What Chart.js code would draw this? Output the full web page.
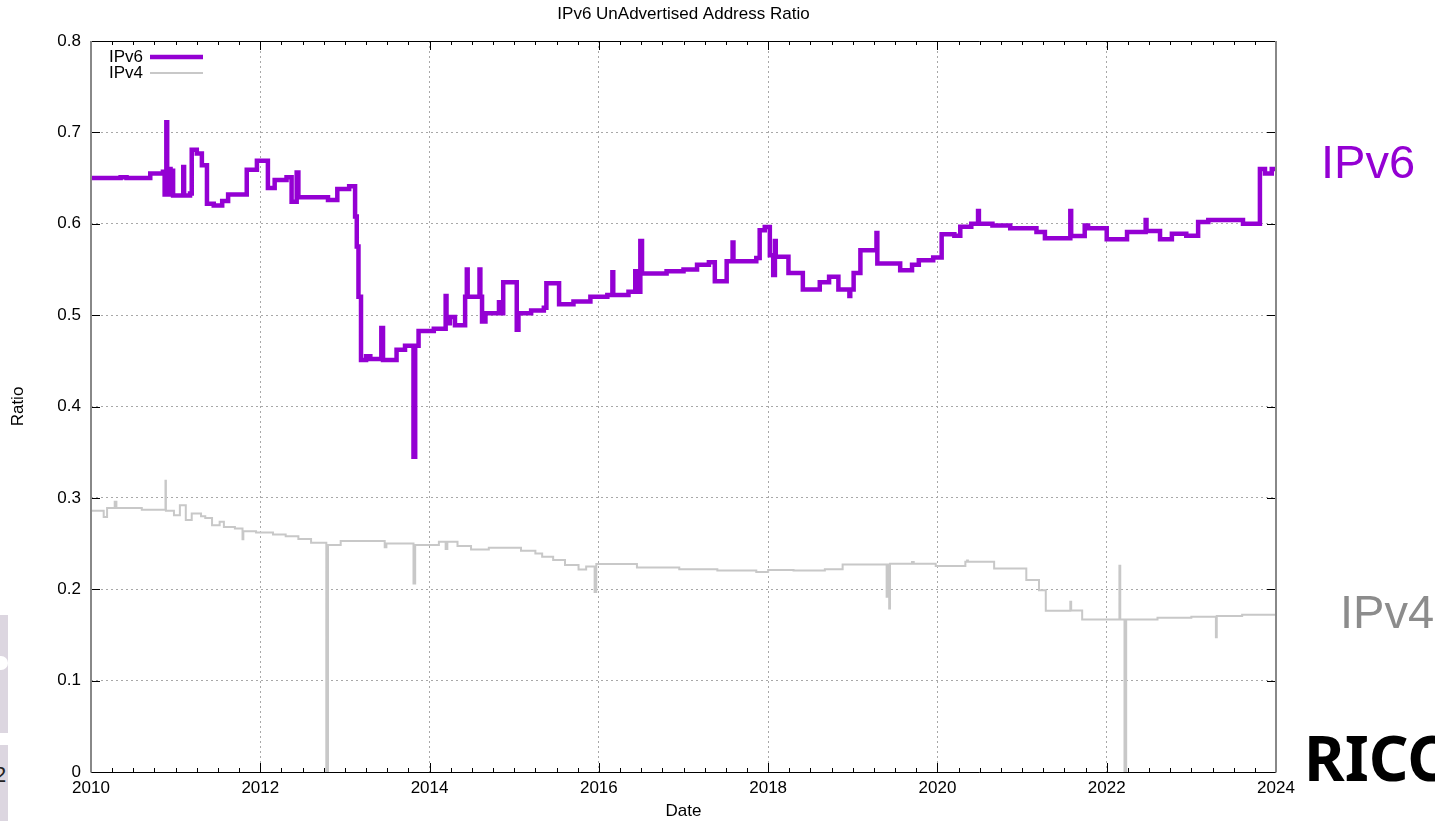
<!DOCTYPE html>
<html>
<head>
<meta charset="utf-8">
<script src="https://cdn.jsdelivr.net/npm/chart.js@4"></script>
<style>
  body { margin: 0; background: #fff; overflow: hidden; }
  #wrap { position: relative; width: 1435px; height: 821px; overflow: hidden; }
  canvas { position: absolute; left: 0; top: 0; }
  .side { position: absolute; font-family: "Liberation Sans", Arial, sans-serif; white-space: nowrap; }
</style>
</head>
<body>
<div id="wrap">
  <div class="side" style="left:0;top:615px;width:8px;height:206px;background:#dcd6e0"></div>
  <div class="side" style="left:0;top:656px;width:8px;height:14px;background:#fff;border-radius:0 8px 8px 0"></div>
  <div class="side" style="left:0;top:733px;width:8px;height:12px;background:#fff"></div>
  <div class="side" style="left:-6px;top:762px;font-size:22px;color:#222">2</div>
  <canvas id="chart" width="1435" height="821"></canvas>
  <div class="side" style="left:1321px;top:134px;font-size:47px;color:#9400d3">IPv6</div>
  <div class="side" style="left:1340px;top:584px;font-size:47px;color:#8c8c8c">IPv4</div>
  <div class="side" style="left:1304px;top:715px;font-size:62px;font-weight:bold;color:#000;font-family:'Noto Sans','Open Sans',sans-serif">RICC</div>
</div>
<script>
// step series: the year a new level starts, and that level
const ipv6Years = [2010.00, 2010.35, 2010.42, 2010.70, 2010.85, 2010.87, 2010.89, 2010.90, 2010.93, 2010.94,
  2010.96, 2010.97, 2011.09, 2011.10, 2011.17, 2011.19, 2011.25, 2011.31, 2011.37, 2011.45,
  2011.55, 2011.62, 2011.84, 2011.96, 2012.09, 2012.17, 2012.31, 2012.37, 2012.43, 2012.45,
  2012.80, 2012.91, 2013.05, 2013.12, 2013.14, 2013.16, 2013.19, 2013.25, 2013.30, 2013.43,
  2013.45, 2013.61, 2013.71, 2013.81, 2013.83, 2013.87, 2014.05, 2014.19, 2014.20, 2014.24,
  2014.30, 2014.42, 2014.44, 2014.45, 2014.59, 2014.60, 2014.62, 2014.66, 2014.82, 2014.83,
  2014.87, 2015.03, 2015.05, 2015.20, 2015.35, 2015.38, 2015.53, 2015.70, 2015.90, 2016.10,
  2016.16, 2016.17, 2016.35, 2016.43, 2016.44, 2016.49, 2016.51, 2016.80, 2017.00, 2017.16,
  2017.30, 2017.37, 2017.51, 2017.58, 2017.59, 2017.86, 2017.90, 2017.96, 2018.02, 2018.06,
  2018.08, 2018.09, 2018.24, 2018.41, 2018.61, 2018.72, 2018.83, 2018.96, 2018.97, 2019.01,
  2019.09, 2019.28, 2019.29, 2019.56, 2019.70, 2019.78, 2019.95, 2020.05, 2020.20, 2020.27,
  2020.40, 2020.48, 2020.49, 2020.65, 2020.86, 2021.17, 2021.27, 2021.57, 2021.58, 2021.74,
  2021.78, 2022.00, 2022.24, 2022.46, 2022.47, 2022.63, 2022.77, 2022.94, 2023.08, 2023.20,
  2023.61, 2023.81, 2023.87, 2023.95, 2024.00];
const ipv6Values = [0.650, 0.651, 0.650, 0.655, 0.657, 0.632, 0.711, 0.632, 0.660, 0.632,
  0.658, 0.631, 0.662, 0.631, 0.633, 0.681, 0.677, 0.664, 0.622, 0.620,
  0.625, 0.632, 0.659, 0.669, 0.639, 0.648, 0.651, 0.624, 0.656, 0.629,
  0.626, 0.638, 0.641, 0.608, 0.575, 0.520, 0.451, 0.455, 0.452, 0.486,
  0.451, 0.462, 0.4665, 0.345, 0.4665, 0.4825, 0.485, 0.521, 0.491, 0.498,
  0.489, 0.520, 0.550, 0.520, 0.550, 0.520, 0.493, 0.502, 0.514, 0.502,
  0.536, 0.484, 0.502, 0.505, 0.508, 0.535, 0.512, 0.515, 0.520, 0.522,
  0.547, 0.522, 0.5255, 0.548, 0.5255, 0.581, 0.5455, 0.548, 0.550, 0.555,
  0.558, 0.537, 0.559, 0.5795, 0.559, 0.5625, 0.593, 0.5965, 0.5656, 0.5438,
  0.581, 0.5638, 0.546, 0.528, 0.536, 0.542, 0.528, 0.521, 0.528, 0.546,
  0.571, 0.590, 0.5565, 0.549, 0.555, 0.560, 0.563, 0.5886, 0.587, 0.5966,
  0.600, 0.614, 0.600, 0.598, 0.595, 0.591, 0.584, 0.614, 0.5865, 0.598,
  0.595, 0.583, 0.591, 0.604, 0.592, 0.583, 0.589, 0.587, 0.602, 0.604,
  0.600, 0.660, 0.655, 0.660, 0.660];

const ipv4Years = [2010.00, 2010.15, 2010.19, 2010.28, 2010.30, 2010.60, 2010.88, 2010.885, 2010.98, 2011.05,
  2011.12, 2011.19, 2011.30, 2011.35, 2011.43, 2011.52, 2011.57, 2011.70, 2011.79, 2011.80,
  2011.95, 2012.15, 2012.30, 2012.45, 2012.60, 2012.78, 2012.80, 2012.95, 2013.47, 2013.49,
  2013.81, 2013.83, 2014.11, 2014.19, 2014.21, 2014.33, 2014.49, 2014.70, 2015.08, 2015.25,
  2015.33, 2015.46, 2015.60, 2015.76, 2015.85, 2015.95, 2015.97, 2016.40, 2016.45, 2016.95,
  2017.40, 2017.86, 2018.00, 2018.30, 2018.67, 2018.88, 2019.40, 2019.41, 2019.43, 2019.44,
  2019.70, 2019.72, 2019.98, 2020.33, 2020.35, 2020.36, 2020.67, 2021.05, 2021.20, 2021.28,
  2021.57, 2021.58, 2021.71, 2022.15, 2022.16, 2022.21, 2022.23, 2022.60, 2023.00, 2023.29,
  2023.30, 2023.60, 2024.00];
const ipv4Values = [0.286, 0.279, 0.289, 0.2957, 0.289, 0.287, 0.3187, 0.286, 0.281, 0.292,
  0.2757, 0.283, 0.280, 0.278, 0.270, 0.2739, 0.268, 0.2666, 0.2546, 0.2636,
  0.262, 0.260, 0.258, 0.255, 0.251, 0.0, 0.2484, 0.2527, 0.246, 0.250,
  0.2064, 0.2484, 0.252, 0.244, 0.252, 0.2473, 0.2436, 0.2454, 0.242, 0.239,
  0.2356, 0.232, 0.2265, 0.2217, 0.225, 0.197, 0.2276, 0.2276, 0.2237, 0.2218,
  0.2205, 0.2188, 0.221, 0.2205, 0.222, 0.2272, 0.1918, 0.2272, 0.179, 0.228,
  0.2298, 0.228, 0.2254, 0.2301, 0.2316, 0.2301, 0.2228, 0.210, 0.199, 0.1765,
  0.1863, 0.1767, 0.167, 0.2257, 0.167, 0.0, 0.167, 0.1688, 0.170, 0.1474,
  0.1707, 0.172, 0.1743];

const xMajorTicks = [2010, 2012, 2014, 2016, 2018, 2020, 2022, 2024];
const yMajorTicks = [0, 0.1, 0.2, 0.3, 0.4, 0.5, 0.6, 0.7, 0.8];
const xMinorStep = 0.25;

const seriesNames = ["IPv6", "IPv4"];
const seriesColors = ["#9400d3", "#c8c8c8"];

const FONT = "'Liberation Sans', Arial, sans-serif";

function toPoints(xs, ys) {
  return xs.map((x, i) => ({ x: x, y: ys[i] }));
}

// gnuplot style frame: border, inward ticks on all four sides, legend inside
const framePlugin = {
  id: "frame",
  afterDatasetsDraw(chart) {
    const { ctx, chartArea: a, scales } = chart;
    const xs = scales.x, ys = scales.y;
    ctx.save();
    ctx.strokeStyle = "#000";
    ctx.lineWidth = 1;
    ctx.beginPath();
    for (let v = xMajorTicks[0]; v <= xMajorTicks[xMajorTicks.length - 1] + 1e-9; v += xMinorStep) {
      const px = Math.round(xs.getPixelForValue(v)) + 0.5;
      const len = xMajorTicks.includes(Math.round(v * 100) / 100) ? 9 : 4;
      ctx.moveTo(px, a.bottom); ctx.lineTo(px, a.bottom - len);
      ctx.moveTo(px, a.top); ctx.lineTo(px, a.top + len);
    }
    yMajorTicks.forEach((v) => {
      const py = Math.round(ys.getPixelForValue(v)) + 0.5;
      ctx.moveTo(a.left, py); ctx.lineTo(a.left + 9, py);
      ctx.moveTo(a.right, py); ctx.lineTo(a.right - 9, py);
    });
    ctx.stroke();

    // border
    ctx.beginPath();
    ctx.strokeStyle = "#000";
    ctx.lineWidth = 1;
    ctx.moveTo(a.left, Math.round(a.top) + 0.5); ctx.lineTo(a.right, Math.round(a.top) + 0.5);
    ctx.moveTo(a.left, Math.round(a.bottom) + 0.5); ctx.lineTo(a.right, Math.round(a.bottom) + 0.5);
    ctx.stroke();
    ctx.beginPath();
    ctx.strokeStyle = "#888";
    ctx.lineWidth = 2;
    ctx.moveTo(Math.round(a.left), a.top); ctx.lineTo(Math.round(a.left), a.bottom + 0.5);
    ctx.moveTo(Math.round(a.right), a.top); ctx.lineTo(Math.round(a.right), a.bottom + 0.5);
    ctx.stroke();

    // legend
    ctx.font = "17px " + FONT;
    ctx.textAlign = "right";
    ctx.textBaseline = "middle";
    ctx.fillStyle = "#000";
    const widths = [4.5, 2];
    seriesNames.forEach((name, i) => {
      const ly = a.top + 16 + i * 16;
      ctx.fillText(name, a.left + 52, ly);
      ctx.beginPath();
      ctx.strokeStyle = seriesColors[i];
      ctx.lineWidth = widths[i];
      ctx.moveTo(a.left + 59, ly);
      ctx.lineTo(a.left + 112, ly);
      ctx.stroke();
    });
    ctx.restore();
  },
};

new Chart(document.getElementById("chart"), {
  type: "line",
  data: {
    datasets: [
      {
        label: seriesNames[1],
        data: toPoints(ipv4Years, ipv4Values),
        borderColor: seriesColors[1],
        borderWidth: 2,
        stepped: true,
        pointRadius: 0,
        fill: false,
      },
      {
        label: seriesNames[0],
        data: toPoints(ipv6Years, ipv6Values),
        borderColor: seriesColors[0],
        borderWidth: 4.5,
        stepped: true,
        pointRadius: 0,
        fill: false,
      },
    ],
  },
  options: {
    responsive: false,
    animation: false,
    layout: { padding: { left: 0, right: 159, top: 0, bottom: 0 } },
    plugins: {
      legend: { display: false },
      tooltip: { enabled: false },
      title: {
        display: true,
        fullSize: false,
        text: "IPv6 UnAdvertised Address Ratio",
        color: "#000",
        font: { family: FONT, size: 17, weight: "normal" },
        padding: { top: 4, bottom: 16.6 },
      },
    },
    scales: {
      x: {
        type: "linear",
        min: 2010,
        max: 2024,
        afterFit: (s) => { s.height = 49; },
        afterBuildTicks: (s) => { s.ticks = xMajorTicks.map((v) => ({ value: v })); },
        ticks: {
          color: "#000",
          font: { family: FONT, size: 17 },
          padding: 6,
          maxRotation: 0,
          autoSkip: false,
          callback: (v) => String(v),
        },
        grid: { color: "#a8a8a8", lineWidth: 1, drawTicks: false },
        border: { display: false, dash: [2, 3] },
        title: {
          display: true,
          text: "Date",
          color: "#000",
          font: { family: FONT, size: 17 },
          padding: { top: 0, bottom: -1 },
        },
      },
      y: {
        type: "linear",
        min: 0,
        max: 0.8,
        afterFit: (s) => { s.width = 91; },
        afterBuildTicks: (s) => { s.ticks = yMajorTicks.map((v) => ({ value: v })); },
        ticks: {
          color: "#000",
          font: { family: FONT, size: 17 },
          padding: 10,
          callback: (v) => (v === 0 ? "0" : v.toFixed(1)),
        },
        grid: { color: "#a8a8a8", lineWidth: 1, drawTicks: false },
        border: { display: false, dash: [2, 3] },
        title: {
          display: true,
          text: "Ratio",
          color: "#000",
          font: { family: FONT, size: 17 },
          padding: { top: 8, bottom: 0 },
        },
      },
    },
  },
  plugins: [framePlugin],
});
</script>
</body>
</html>
